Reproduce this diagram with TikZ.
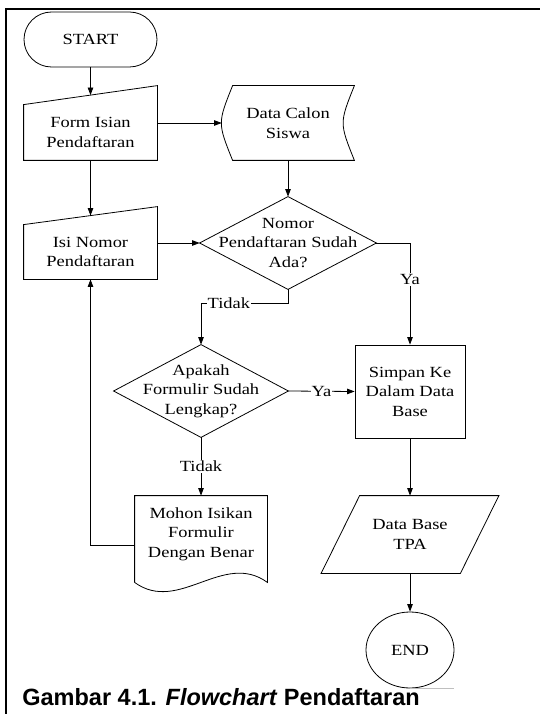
\documentclass[tikz,border=0pt]{standalone}
\usepackage{fontspec}
\setmainfont{Liberation Serif}[FakeStretch=1.19]
\newfontfamily\capfont{Liberation Sans}
\usetikzlibrary{calc, shapes, positioning, arrows.meta}

\begin{document}
\begin{tikzpicture}[x=1pt, y=-1pt, line width=0.8pt,
  box/.style={minimum width=133pt, inner sep=0pt, align=center, font=\fontsize{15.5}{19.5}\selectfont},
  arr/.style={-{Triangle[length=7.5pt,width=5.5pt]}},
  lbl/.style={fill=white, inner sep=1pt, font=\fontsize{15.5}{19.5}\selectfont}]
  \useasboundingbox (0,0) rectangle (540,714);
  \draw[line width=2pt] (6,714) -- (6,9) -- (540,9);

  \node[box, draw, rounded corners=27.5pt, minimum height=55pt] (start) at (90.5,39.5) {START};
  \node[box, minimum height=55pt] (form) at (90.5,132.5) {Form Isian\\Pendaftaran};
  \draw (form.south west) -- (form.south east) -- ($(form.north east)+(0,-19)$) -- (form.north west) -- cycle;
  \node[box, minimum width=132pt, minimum height=74pt] (data) at (288,123) {Data Calon\\Siswa};
  \draw ($(data.north west)+(11,0)$) -- (data.north east) .. controls ($(data.east)+(-15,0)$) .. (data.south east)
    -- ($(data.south west)+(11,0)$) .. controls ($(data.west)+(-4,0)$) .. ($(data.north west)+(11,0)$) -- cycle;
  \node[box, minimum height=54pt] (isi) at (90.5,252) {Isi Nomor\\Pendaftaran};
  \draw (isi.south west) -- (isi.south east) -- ($(isi.north east)+(0,-18)$) -- (isi.north west) -- cycle;
  \node[box, minimum width=176pt, minimum height=92pt] (nomor) at (288,243) {Nomor\\Pendaftaran Sudah\\Ada?};
  \draw (nomor.north) -- (nomor.east) -- (nomor.south) -- (nomor.west) -- cycle;
  \node[box, minimum width=174pt, minimum height=92pt] (apakah) at (201,391) {Apakah\\Formulir Sudah\\Lengkap?};
  \draw (apakah.north) -- (apakah.east) -- (apakah.south) -- (apakah.west) -- cycle;
  \node[box, draw, minimum width=110pt, minimum height=93pt] (simpan) at (410,391.5) {Simpan Ke\\Dalam Data\\Base};
  \node[box, minimum width=132pt, minimum height=76pt] (mohon) at (201,534) {Mohon Isikan\\Formulir\\Dengan Benar};
  \draw ($(mohon.south west)+(0,10)$) -- (mohon.north west) -- (mohon.north east) -- ($(mohon.south east)+(0,10)$)
    .. controls ($(mohon.south east)+(-44,-22)$) and ($(mohon.south west)+(44,42)$) .. ($(mohon.south west)+(0,10)$);
  \node[box, minimum width=177pt, minimum height=77pt] (tpa) at (410,534.5) {Data Base\\TPA};
  \draw ($(tpa.north west)+(38.5,0)$) -- (tpa.north east) -- ($(tpa.south east)+(-38.5,0)$) -- (tpa.south west) -- cycle;
  \node[box, draw, ellipse, minimum width=88pt, minimum height=76pt] (stop) at (410,650) {END};
  \draw[gray!50] (stop.south) -- ++(44,0);

  \coordinate (formtop) at ($(form.north)+(0,-9.5)$);
  \coordinate (isitop) at ($(isi.north)+(0,-9)$);
  \foreach \a/\b in {start/formtop, form/isitop, data/nomor, simpan/tpa, tpa/stop}
    \draw[arr] (\a) -- (\b);
  \draw[arr] (form.east |- data) -- (data);
  \draw[arr] (isi.east |- nomor) -- (nomor);
  \draw[arr] (nomor.east) -| node[lbl, pos=0.68] (ya1) {Ya} (simpan.north);
  \draw[arr] (nomor.south) -- ++(0,14) -| node[lbl, pos=0.34] (tidak1) {Tidak} (apakah.north);
  \draw[arr] (apakah.east) -- node[lbl] (ya2) {Ya} (simpan.west);
  \draw[arr] (apakah.south) -- node[lbl] (tidak2) {Tidak} (mohon.north);
  \draw[arr] ([yshift=-11pt]mohon.west) -| (isi.south);

  \node[anchor=base west, inner sep=0pt, font=\capfont\bfseries\fontsize{23.5}{28}\selectfont] (caption) at (22,705)
    {Gambar 4.1. \textit{Flowchart} Pendaftaran};
\end{tikzpicture}
\end{document}
